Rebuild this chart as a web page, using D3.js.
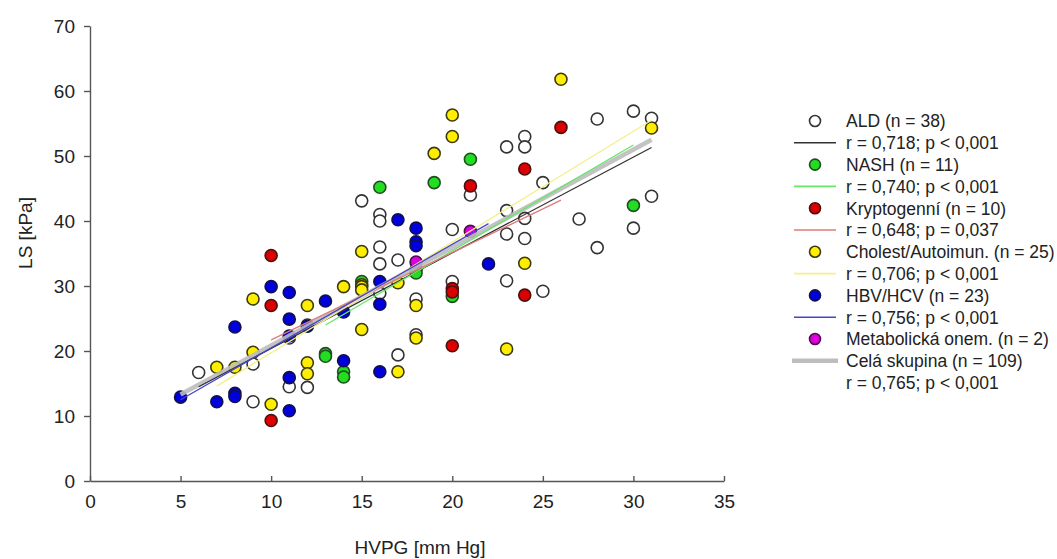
<!DOCTYPE html>
<html>
<head>
<meta charset="utf-8">
<script src="https://cdn.jsdelivr.net/npm/d3@7"></script>
<style>
  html, body { margin: 0; padding: 0; background: #fff; }
  svg { display: block; font-family: "Liberation Sans", Arial, sans-serif; }
</style>
</head>
<body>
<svg id="chart" width="1057" height="559"></svg>
<script>
// HVPG [mm Hg] vs LS [kPa], one array of [x, y] pairs per etiology group
const ald = [
  [6, 16.7], [9, 12.2], [9, 18], [11, 14.5], [12, 14.4], [11, 22], [12, 24],
  [15, 43.1], [16, 41], [16, 40], [16, 36], [16, 33.4], [17, 34], [16, 28.9],
  [18, 32.5], [18, 28], [18, 22.5], [17, 19.4], [20, 38.7], [20, 30.7],
  [21, 44], [23, 41.6], [23, 38], [23, 30.8], [23, 51.4], [24, 53], [24, 51.4],
  [24, 40.4], [24, 37.3], [25, 45.9], [25, 29.2], [27, 40.3], [28, 55.7],
  [28, 35.9], [30, 56.9], [30, 38.9], [31, 55.8], [31, 43.8]
];
const nash = [
  [13, 19.6], [13, 19.2], [14, 16.8], [14, 16], [16, 45.2], [19, 45.9],
  [21, 49.5], [30, 42.4], [18, 32], [15, 30.7], [20, 28.4]
];
const kryptogenni = [
  [10, 9.3], [10, 34.7], [10, 27], [21, 45.4], [20, 29.6], [20, 29.1],
  [24, 28.6], [20, 20.8], [26, 54.4], [24, 48]
];
const cholest = [
  [7, 17.5], [8, 17.5], [9, 19.8], [10, 11.8], [12, 18.2], [12, 16.5],
  [9, 28], [12, 27], [14, 29.9], [15, 35.3], [17, 30.5], [15, 30.2],
  [15, 29.9], [15, 29.4], [24, 33.5], [18, 27], [15, 23.3], [18, 22],
  [23, 20.3], [17, 16.8], [26, 61.8], [20, 56.3], [20, 53], [31, 54.3],
  [19, 50.4]
];
const hbv = [
  [5, 12.9], [7, 12.2], [8, 13.5], [8, 13], [11, 22.3], [11, 15.9],
  [11, 10.8], [14, 18.5], [10, 29.9], [11, 29], [13, 27.7], [8, 23.7],
  [11, 24.9], [12, 23.8], [14, 26], [17, 40.2], [18, 38.9], [18, 36.8],
  [18, 36.2], [22, 33.4], [16, 30.7], [16, 27.2], [16, 16.8]
];
const metabolicka = [[18, 33.7], [21, 38.4]];

// Regression lines as [x0, y0, x1, y1] in data units
const fitAld = [6, 14.5, 31, 51.3];
const fitNash = [13, 24, 30, 51.7];
const fitKrypto = [10, 21.7, 26, 43.2];
const fitCholest = [7, 14.6, 31, 55.5];
const fitHbv = [5, 12.5, 22, 39.6];
const fitAll = [5, 13.3, 31, 52.5];

const xTicks = [0, 5, 10, 15, 20, 25, 30, 35];
const yTicks = [0, 10, 20, 30, 40, 50, 60, 70];

const groups = [
  { name: "ALD (n = 38)", stat: "r = 0,718; p < 0,001", pts: ald, fit: fitAld,
    fill: "#ffffff", stroke: "#333333", line: "#333333", lw: 1.3 },
  { name: "NASH (n = 11)", stat: "r = 0,740; p < 0,001", pts: nash, fit: fitNash,
    fill: "#22dd22", stroke: "#1f4d1f", line: "#66e866", lw: 1.3 },
  { name: "Kryptogenní (n = 10)", stat: "r = 0,648; p = 0,037", pts: kryptogenni, fit: fitKrypto,
    fill: "#dd0000", stroke: "#4a1010", line: "#e07a7a", lw: 1.3 },
  { name: "Cholest/Autoimun. (n = 25)", stat: "r = 0,706; p < 0,001", pts: cholest, fit: fitCholest,
    fill: "#ffee00", stroke: "#3d3a10", line: "#f4f08a", lw: 1.3 },
  { name: "HBV/HCV (n = 23)", stat: "r = 0,756; p < 0,001", pts: hbv, fit: fitHbv,
    fill: "#0000dd", stroke: "#10104a", line: "#4545c8", lw: 1.3 },
  { name: "Metabolická onem. (n = 2)", stat: null, pts: metabolicka, fit: null,
    fill: "#dd00dd", stroke: "#4a104a", line: null, lw: 0 }
];

const svg = d3.select("#chart");
svg.append("rect").attr("width", 1057).attr("height", 559).attr("fill", "#fff");

const x = d3.scaleLinear().domain([0, 35]).range([90, 724]);
const y = d3.scaleLinear().domain([0, 70]).range([481, 26]);

// Axes
const gx = svg.append("g").attr("transform", `translate(0,${y(0)})`)
  .call(d3.axisBottom(x).tickValues(xTicks).tickSizeInner(-5).tickSizeOuter(0).tickPadding(14));
const gy = svg.append("g").attr("transform", `translate(${x(0)},0)`)
  .call(d3.axisLeft(y).tickValues(yTicks).tickSizeInner(6).tickSizeOuter(0).tickPadding(9));
[gx, gy].forEach(g => {
  g.selectAll("path, line").attr("stroke", "#555").attr("stroke-width", 1.4);
  g.selectAll("text").attr("fill", "#222").style("font-size", "19px")
    .style("font-family", "'Liberation Sans', Arial, sans-serif");
});

// Axis titles
svg.append("text").attr("x", 420).attr("y", 554).attr("text-anchor", "middle")
  .attr("fill", "#222").style("font-size", "19px").text("HVPG [mm Hg]");
svg.append("text").attr("transform", `translate(32,${233}) rotate(-90)`)
  .attr("text-anchor", "middle").attr("fill", "#222").style("font-size", "19px").text("LS [kPa]");

// Points
const pts = svg.append("g");
groups.forEach(gr => {
  pts.selectAll(null).data(gr.pts).enter().append("circle")
    .attr("cx", d => x(d[0])).attr("cy", d => y(d[1])).attr("r", 6)
    .attr("fill", gr.fill).attr("stroke", gr.stroke).attr("stroke-width", 1.6);
});

// Regression lines
const lines = svg.append("g");
lines.append("line")
  .attr("x1", x(fitAll[0])).attr("y1", y(fitAll[1]))
  .attr("x2", x(fitAll[2])).attr("y2", y(fitAll[3]))
  .attr("stroke", "#bdbdbd").attr("stroke-width", 4.5).attr("stroke-opacity", 0.9);
groups.filter(g => g.fit).forEach(gr => {
  lines.append("line")
    .attr("x1", x(gr.fit[0])).attr("y1", y(gr.fit[1]))
    .attr("x2", x(gr.fit[2])).attr("y2", y(gr.fit[3]))
    .attr("stroke", gr.line).attr("stroke-width", gr.lw);
});

// Legend
const leg = svg.append("g").style("font-size", "17.5px").attr("fill", "#222");
const rowH = 21.8;
let row = 0;
const ry = r => 121 + r * rowH;
groups.forEach(gr => {
  leg.append("circle").attr("cx", 815).attr("cy", ry(row)).attr("r", 5.5)
    .attr("fill", gr.fill).attr("stroke", gr.stroke).attr("stroke-width", 1.6);
  leg.append("text").attr("x", 846).attr("y", ry(row)).attr("dy", "0.36em").text(gr.name);
  row++;
  if (gr.stat) {
    leg.append("line").attr("x1", 794).attr("x2", 836).attr("y1", ry(row)).attr("y2", ry(row))
      .attr("stroke", gr.line).attr("stroke-width", 1.6);
    leg.append("text").attr("x", 846).attr("y", ry(row)).attr("dy", "0.36em").text(gr.stat);
    row++;
  }
});
leg.append("line").attr("x1", 792).attr("x2", 838).attr("y1", ry(row)).attr("y2", ry(row))
  .attr("stroke", "#bdbdbd").attr("stroke-width", 4.5);
leg.append("text").attr("x", 846).attr("y", ry(row)).attr("dy", "0.36em").text("Celá skupina (n = 109)");
row++;
leg.append("text").attr("x", 846).attr("y", ry(row)).attr("dy", "0.36em").text("r = 0,765; p < 0,001");
</script>
</body>
</html>
